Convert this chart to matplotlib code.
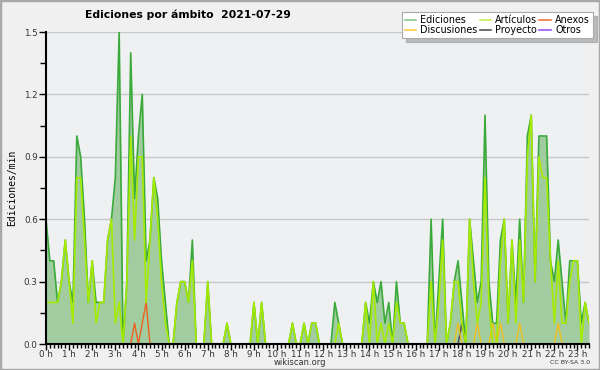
import numpy as np
import matplotlib
matplotlib.use('Agg')
import matplotlib.pyplot as plt
from matplotlib.lines import Line2D
from matplotlib.patches import Rectangle

# ediciones/min en tramos de 10 minutos, desde 0:00 hasta 23:30
ediciones = [
    0.6, 0.4, 0.4, 0.2, 0.3, 0.5, 0.3, 0.2, 1.0, 0.9,
    0.6, 0.2, 0.4, 0.2, 0.2, 0.2, 0.5, 0.6, 0.8, 1.5,
    0.0, 0.3, 1.4, 0.7, 1.0, 1.2, 0.4, 0.5, 0.8, 0.7,
    0.4, 0.2, 0.0, 0.0, 0.2, 0.3, 0.3, 0.2, 0.5, 0.0,
    0.0, 0.0, 0.3, 0.0, 0.0, 0.0, 0.0, 0.1, 0.0, 0.0,
    0.0, 0.0, 0.0, 0.0, 0.2, 0.0, 0.2, 0.0, 0.0, 0.0,
    0.0, 0.0, 0.0, 0.0, 0.1, 0.0, 0.0, 0.1, 0.0, 0.1,
    0.1, 0.0, 0.0, 0.0, 0.0, 0.2, 0.1, 0.0, 0.0, 0.0,
    0.0, 0.0, 0.0, 0.2, 0.1, 0.3, 0.2, 0.3, 0.1, 0.2,
    0.0, 0.3, 0.1, 0.1, 0.0, 0.0, 0.0, 0.0, 0.0, 0.0,
    0.6, 0.0, 0.3, 0.6, 0.0, 0.1, 0.3, 0.4, 0.2, 0.0,
    0.6, 0.4, 0.2, 0.3, 1.1, 0.3, 0.1, 0.1, 0.5, 0.6,
    0.1, 0.5, 0.2, 0.6, 0.2, 1.0, 1.1, 0.3, 1.0, 1.0,
    1.0, 0.4, 0.3, 0.5, 0.3, 0.1, 0.4, 0.4, 0.4, 0.1,
    0.2, 0.1,
]

articulos = [
    0.2, 0.2, 0.2, 0.2, 0.3, 0.5, 0.3, 0.1, 0.8, 0.8,
    0.5, 0.2, 0.4, 0.1, 0.2, 0.2, 0.5, 0.6, 0.1, 0.2,
    0.0, 0.3, 1.0, 0.5, 0.9, 0.9, 0.2, 0.5, 0.8, 0.6,
    0.3, 0.1, 0.0, 0.0, 0.2, 0.3, 0.3, 0.2, 0.4, 0.0,
    0.0, 0.0, 0.3, 0.0, 0.0, 0.0, 0.0, 0.1, 0.0, 0.0,
    0.0, 0.0, 0.0, 0.0, 0.2, 0.0, 0.2, 0.0, 0.0, 0.0,
    0.0, 0.0, 0.0, 0.0, 0.1, 0.0, 0.0, 0.1, 0.0, 0.1,
    0.1, 0.0, 0.0, 0.0, 0.0, 0.0, 0.1, 0.0, 0.0, 0.0,
    0.0, 0.0, 0.0, 0.2, 0.0, 0.3, 0.0, 0.1, 0.0, 0.1,
    0.0, 0.2, 0.1, 0.1, 0.0, 0.0, 0.0, 0.0, 0.0, 0.0,
    0.3, 0.0, 0.2, 0.5, 0.0, 0.1, 0.3, 0.3, 0.1, 0.0,
    0.6, 0.3, 0.1, 0.2, 0.8, 0.2, 0.0, 0.0, 0.4, 0.6,
    0.1, 0.5, 0.1, 0.5, 0.2, 0.9, 1.1, 0.3, 0.9, 0.8,
    0.8, 0.4, 0.1, 0.4, 0.1, 0.1, 0.3, 0.4, 0.4, 0.0,
    0.2, 0.1,
]

# series casi vacias: {tramo: valor}
anexos_tramos = {23: 0.1, 25: 0.1, 26: 0.2}
discusiones_tramos = {107: 0.1, 112: 0.1, 116: 0.1, 118: 0.1, 123: 0.1, 133: 0.1}
proyecto_tramos = {108: 0.1}
otros_tramos = {}

n = len(ediciones)
horas = np.arange(n) / 6


def serie(tramos):
    valores = np.zeros(n)
    for k in tramos:
        valores[k] = tramos[k]
    return valores


def sin_ceros(valores):
    # no dibujar la linea donde esta pegada al eje
    v = np.array(valores, dtype=float)
    antes = np.r_[0, v[:-1]]
    despues = np.r_[v[1:], 0]
    return np.where((v == 0) & (antes == 0) & (despues == 0), np.nan, v)


anexos = serie(anexos_tramos)
discusiones = serie(discusiones_tramos)
proyecto = serie(proyecto_tramos)
otros = serie(otros_tramos)

fondo = '#f0f0f0'
fig = plt.figure(figsize=(6, 3.7), dpi=100, facecolor=fondo)
ax = fig.add_axes([46 / 600, 26 / 370, 543 / 600, 312 / 370])
ax.set_facecolor('#eef0f2')

ax.fill_between(horas, ediciones, color='#a0cca0', lw=0)
ax.plot(horas, sin_ceros(ediciones), color='#3aaa3a', lw=1.2)
ax.plot(horas, sin_ceros(otros), color='#8844ee', lw=1)
ax.plot(horas, sin_ceros(proyecto), color='#444444', lw=1)
ax.plot(horas, sin_ceros(discusiones), color='#f0c020', lw=1)
ax.plot(horas, sin_ceros(anexos), color='#ee6020', lw=1)
ax.plot(horas, sin_ceros(articulos), color='#a6ea00', lw=1.2)

ax.set_xlim(0, 23.5)
ax.set_ylim(0, 1.5)
ax.set_yticks([0, 0.3, 0.6, 0.9, 1.2, 1.5])
ax.set_yticklabels(['0.0', '0.3', '0.6', '0.9', '1.2', '1.5'])
ax.set_yticks(np.arange(0, 1.51, 0.15), minor=True)
ax.set_xticks(range(24))
ax.set_xticklabels([f'{h} h' for h in range(24)])
ax.set_xticks(np.arange(0, 23.51, 1 / 6), minor=True)
ax.tick_params(axis='both', which='both', labelsize=6.3, colors='#000000',
               labelcolor='#333333', width=1)
ax.tick_params(axis='x', which='major', length=4, pad=0.5)
ax.tick_params(axis='x', which='minor', length=3)
ax.tick_params(axis='y', which='major', length=5, pad=1)
ax.tick_params(axis='y', which='minor', length=4)
ax.grid(axis='y', color='#c8c8c8', lw=1)
ax.set_axisbelow(True)
for lado in ['top', 'right']:
    ax.spines[lado].set_visible(False)
for lado in ['left', 'bottom']:
    ax.spines[lado].set_linewidth(1.5)
    ax.spines[lado].set_zorder(5)

ax.set_ylabel('Ediciones/min', family='DejaVu Sans Mono', fontsize=7, labelpad=5)

fig.text(85 / 600, 1 - 15 / 370, 'Ediciones por ámbito  2021-07-29',
         fontsize=7.8, fontweight='bold', va='center', ha='left')
fig.text(0.5, 1 - 362.5 / 370, 'wikiscan.org', fontsize=6, color='#333333',
         ha='center', va='center')
fig.text(590 / 600, 1 - 362.5 / 370, 'CC BY-SA 3.0', fontsize=4.5, color='#333333',
         ha='right', va='center')

manejadores = [
    Line2D([], [], color='#88cc88', lw=1.2),
    Line2D([], [], color='#ffcc44', lw=1.2),
    Line2D([], [], color='#ccee55', lw=1.2),
    Line2D([], [], color='#555555', lw=1.2),
    Line2D([], [], color='#ee7744', lw=1.2),
    Line2D([], [], color='#9955ee', lw=1.2),
]
nombres = ['Ediciones', 'Discusiones', 'Artículos', 'Proyecto', 'Anexos', 'Otros']
leg = fig.legend(manejadores, nombres, ncol=3, fontsize=6.9, loc='upper right',
                 bbox_to_anchor=(593 / 600, 1 - 12 / 370), frameon=True,
                 fancybox=False, shadow={'color': '#888888', 'ox': 3, 'oy': -3},
                 borderpad=0.3, handlelength=1.2, handletextpad=0.45,
                 columnspacing=0.2, labelspacing=0.05, borderaxespad=0)
leg.get_frame().set_edgecolor('#aaaaaa')
leg.get_frame().set_linewidth(0.8)

fig.patches.append(Rectangle((0, 0), 1, 1, transform=fig.transFigure, fill=False,
                             edgecolor='#a8a8a8', lw=2.5))

fig.savefig('out.png', dpi=100, facecolor=fondo)
